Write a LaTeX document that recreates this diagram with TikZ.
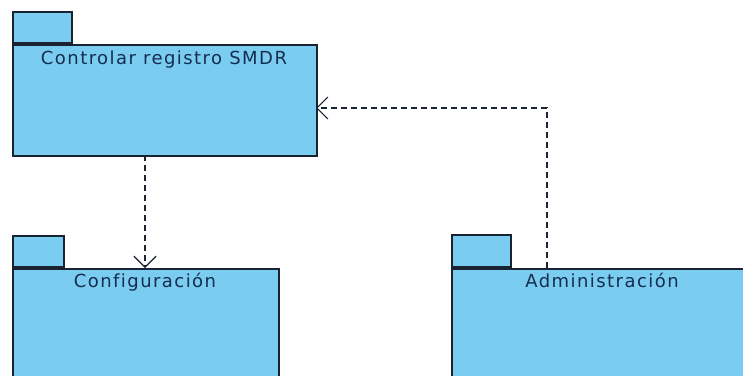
\documentclass[tikz,border=0pt]{standalone}
\usepackage{fontspec}
\setmainfont{DejaVu Sans}[LetterSpace=8, Ligatures=NoCommon]
\usetikzlibrary{arrows.meta}
\definecolor{pkgfill}{RGB}{122,205,240}
\definecolor{pkgline}{RGB}{25,35,50}
\definecolor{pkgtext}{RGB}{20,45,80}
\tikzset{
  pkgbody/.style={draw=pkgline, fill=pkgfill, line width=1.6pt, anchor=north west, inner sep=0pt},
  pkgtab/.style={draw=pkgline, fill=pkgfill, line width=1.6pt, anchor=south west, inner sep=0pt},
  pkglabel/.style={text=pkgtext, font=\fontsize{18}{20}\selectfont, anchor=base, inner sep=0pt},
  dep/.style={draw=pkgline, line width=1.3pt, dash pattern=on 6pt off 4pt,
    -{Straight Barb[length=11pt, width=22pt, line width=1.2pt]}}
}
\begin{document}
\begin{tikzpicture}[x=1pt, y=-1pt]
\useasboundingbox (0,0) rectangle (743,375);
\clip (0,0) rectangle (743,375);
\fill[white] (0,0) rectangle (743,375);

% Controlar registro SMDR
\node[pkgtab, minimum width=59pt, minimum height=31pt] (t1) at (12,44) {};
\node[pkgbody, minimum width=304pt, minimum height=111pt] (p1) at (12,44) {};
\node[pkglabel] (l1) at (164,64) {Controlar registro SMDR};

% Configuración
\node[pkgtab, minimum width=51pt, minimum height=31pt] (t2) at (12,268) {};
\node[pkgbody, minimum width=266pt, minimum height=130pt] (p2) at (12,268) {};
\node[pkglabel] (l2) at (145,287) {Configuración};

% Administración
\node[pkgtab, minimum width=59pt, minimum height=32pt] (t3) at (451,268) {};
\node[pkgbody, minimum width=310pt, minimum height=130pt] (p3) at (451,268) {};
\node[pkglabel] (l3) at (602,287) {Administración};

% dependencies
\coordinate (c1) at (145,155);
\coordinate (c2) at (145,268);
\coordinate (c3) at (547,268);
\coordinate (c4) at (547,108);
\coordinate (c5) at (316,108);
\draw[dep] (c1) -- (c2);
\draw[dep] (c3) -- (c4) -- (c5);
\end{tikzpicture}
\end{document}
